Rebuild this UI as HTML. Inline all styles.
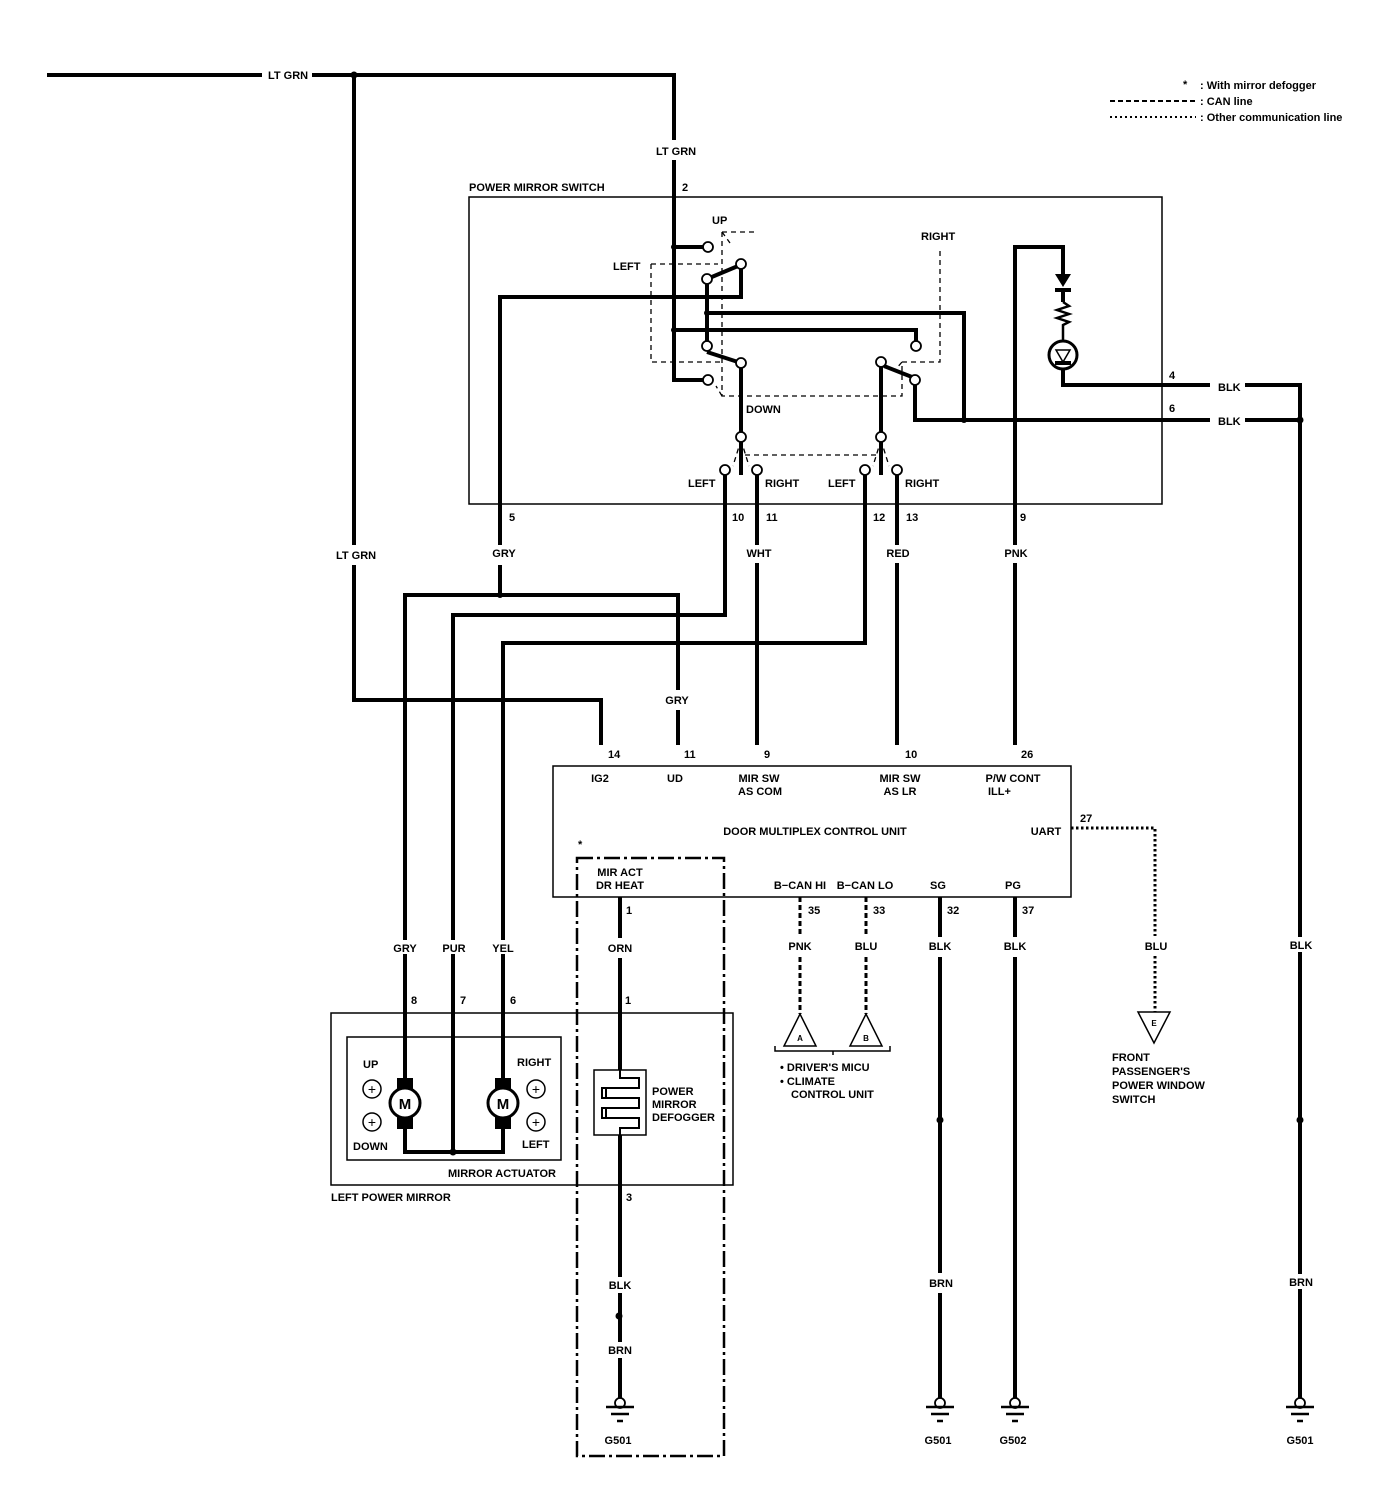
<!DOCTYPE html>
<html><head><meta charset="utf-8"><style>
html,body{margin:0;padding:0;background:#fff}
svg{display:block}
text{font-family:"Liberation Sans",sans-serif;font-weight:bold;font-size:11px;fill:#000}
.w{stroke:#000;stroke-width:4;fill:none}
.t{stroke:#000;stroke-width:1.5;fill:none}
.d{stroke:#000;stroke-width:1.3;fill:none;stroke-dasharray:5 4}
.c{fill:#fff;stroke:#000;stroke-width:1.8}
.m{text-anchor:middle}
</style></head><body>
<svg width="1392" height="1502" viewBox="0 0 1392 1502">
<text x="1183" y="88">*</text><text x="1200" y="89">:  With mirror defogger</text>
<line x1="1110" y1="101" x2="1196" y2="101" stroke="#000" stroke-width="2" stroke-dasharray="5 3"/><text x="1200" y="105">:  CAN line</text>
<line x1="1110" y1="117" x2="1196" y2="117" stroke="#000" stroke-width="2" stroke-dasharray="2 3"/><text x="1200" y="121">:  Other communication line</text>

<path class="w" d="M47 75H262M312 75H674V140M674 160V380H705"/>
<text x="268" y="79">LT GRN</text>
<text x="656" y="155">LT GRN</text>
<text x="682" y="191">2</text>
<circle cx="354" cy="75" r="3.5"/>
<path class="w" d="M354 75V545M354 565V700H601V745"/>
<text x="336" y="559">LT GRN</text>

<rect x="469" y="197" width="693" height="307" class="t"/>
<text x="469" y="191">POWER MIRROR SWITCH</text>
<text x="712" y="224">UP</text><text x="613" y="270">LEFT</text>
<text x="921" y="240">RIGHT</text><text x="746" y="413">DOWN</text>
<path class="d" d="M651 264H718M651 264V362H722M722 232H758M722 232V396H902V362H940V250M745 455H880"/>
<path class="d" d="M722 232L730 243M722 396L716 386M902 362L895 370M741 440L733 466M741 440L749 466M881 440L873 466M881 440L889 466"/>
<path class="w" d="M674 247H705"/>
<circle cx="674" cy="247" r="3"/>
<path class="w" d="M707 279V346M741 267V297H500V545M500 565V595"/>
<path class="w" d="M707 279L738 266"/>
<circle cx="707" cy="313" r="3"/>
<path class="w" d="M707 313H964V420"/>
<path class="w" d="M674 330H916V343"/><circle cx="674" cy="330" r="3"/>
<path class="w" d="M707 352L738 362M741 366V434"/>
<path class="w" d="M881 365V434M884 366L912 377M915 383V420H1300"/>
<circle cx="964" cy="420" r="3"/>
<circle class="c" cx="708" cy="247" r="5"/><circle class="c" cx="741" cy="264" r="5"/><circle class="c" cx="707" cy="279" r="5"/>
<circle class="c" cx="707" cy="346" r="5"/><circle class="c" cx="741" cy="363" r="5"/><circle class="c" cx="708" cy="380" r="5"/>
<circle class="c" cx="916" cy="346" r="5"/><circle class="c" cx="881" cy="362" r="5"/><circle class="c" cx="915" cy="380" r="5"/>
<path class="w" d="M741 441V475M881 441V475"/>
<circle class="c" cx="741" cy="437" r="5"/><circle class="c" cx="881" cy="437" r="5"/>
<circle class="c" cx="725" cy="470" r="5"/><circle class="c" cx="757" cy="470" r="5"/>
<circle class="c" cx="865" cy="470" r="5"/><circle class="c" cx="897" cy="470" r="5"/>
<text x="688" y="487">LEFT</text><text x="765" y="487">RIGHT</text>
<text x="828" y="487">LEFT</text><text x="905" y="487">RIGHT</text>
<text x="509" y="521">5</text><text x="732" y="521">10</text><text x="766" y="521">11</text>
<text x="873" y="521">12</text><text x="906" y="521">13</text><text x="1020" y="521">9</text>
<path class="w" d="M725 475V615H453V1152"/>
<path class="w" d="M757 475V545M757 563V745"/><text class="m" x="759" y="557">WHT</text>
<path class="w" d="M865 475V643H503V1087"/>
<path class="w" d="M897 475V545M897 563V745"/><text class="m" x="898" y="557">RED</text>
<text class="m" x="504" y="557">GRY</text>
<circle cx="500" cy="595" r="3"/>
<path class="w" d="M405 1085V595H678V690M678 710V745"/>
<text class="m" x="677" y="704">GRY</text>
<path class="w" d="M1015 745V563M1015 545V247H1063V274"/>
<text class="m" x="1016" y="557">PNK</text>
<path d="M1055 274H1071L1063 287Z"/>
<path class="w" d="M1055 290H1071M1063 290V302"/>
<path stroke="#000" stroke-width="2.5" fill="none" d="M1063 302L1069 306L1057 310L1069 314L1057 318L1069 322L1063 325V342"/>
<circle cx="1063" cy="355" r="14" stroke="#000" stroke-width="3" fill="#fff"/>
<path stroke="#000" stroke-width="1.5" fill="none" d="M1056 350H1070L1063 362Z"/>
<path class="w" d="M1055 363H1071M1063 368V385H1210M1245 385H1300V1400M1245 420H1300"/>
<rect x="1210" y="380" width="35" height="10" fill="#fff"/><rect x="1210" y="415" width="35" height="10" fill="#fff"/>
<text x="1218" y="391">BLK</text><text x="1218" y="425">BLK</text>
<text x="1169" y="379">4</text><text x="1169" y="412">6</text>
<circle cx="1300" cy="420" r="3.5"/>
<rect x="1294" y="937" width="12" height="15" fill="#fff"/><text class="m" x="1301" y="949">BLK</text>
<circle cx="1300" cy="1120" r="3.5"/>
<rect x="1294" y="1274" width="12" height="15" fill="#fff"/><text class="m" x="1301" y="1286">BRN</text>

<rect x="553" y="766" width="518" height="131" class="t"/>
<text x="608" y="758">14</text><text x="684" y="758">11</text><text x="764" y="758">9</text>
<text x="905" y="758">10</text><text x="1021" y="758">26</text>
<text class="m" x="600" y="782">IG2</text><text class="m" x="675" y="782">UD</text>
<text class="m" x="759" y="782">MIR SW</text><text class="m" x="760" y="795">AS COM</text>
<text class="m" x="900" y="782">MIR SW</text><text class="m" x="900" y="795">AS LR</text>
<text class="m" x="1013" y="782">P/W CONT</text><text x="988" y="795">ILL+</text>
<text class="m" x="815" y="835">DOOR MULTIPLEX CONTROL UNIT</text>
<text class="m" x="1046" y="835">UART</text><text x="1080" y="822">27</text>
<text class="m" x="620" y="876">MIR ACT</text><text class="m" x="620" y="889">DR HEAT</text>
<text class="m" x="800" y="889">B−CAN HI</text><text class="m" x="865" y="889">B−CAN LO</text>
<text class="m" x="938" y="889">SG</text><text class="m" x="1013" y="889">PG</text>
<text x="626" y="914">1</text><text x="808" y="914">35</text><text x="873" y="914">33</text>
<text x="947" y="914">32</text><text x="1022" y="914">37</text>
<path stroke="#000" stroke-width="3" fill="none" stroke-dasharray="2.5 2.5" d="M1071 828H1155V936M1155 956V1012"/>
<text class="m" x="1156" y="950">BLU</text>
<path d="M1138 1012H1170L1154 1043Z" class="t" stroke-width="2"/>
<text class="m" x="1154" y="1026" style="font-size:8px">E</text>
<text x="1112" y="1061">FRONT</text><text x="1112" y="1075">PASSENGER'S</text>
<text x="1112" y="1089">POWER WINDOW</text><text x="1112" y="1103">SWITCH</text>
<path stroke="#000" stroke-width="3" fill="none" stroke-dasharray="5 3" d="M800 897V935M800 957V1014M866 897V935M866 957V1014"/>
<text class="m" x="800" y="950">PNK</text><text class="m" x="866" y="950">BLU</text>
<path d="M784 1046H816L800 1014Z" class="t" stroke-width="2"/>
<path d="M850 1046H882L866 1014Z" class="t" stroke-width="2"/>
<text class="m" x="800" y="1041" style="font-size:8px">A</text><text class="m" x="866" y="1041" style="font-size:8px">B</text>
<path class="t" d="M775 1046V1051H890V1046M833 1051V1055"/>
<text x="780" y="1071">•  DRIVER'S MICU</text><text x="780" y="1085">•  CLIMATE</text><text x="791" y="1098">CONTROL UNIT</text>
<path class="w" d="M940 897V937M940 957V1273M940 1293V1398"/><text class="m" x="940" y="950">BLK</text>
<circle cx="940" cy="1120" r="3.5"/><text class="m" x="941" y="1287">BRN</text>
<path class="w" d="M1015 897V937M1015 957V1398"/><text class="m" x="1015" y="950">BLK</text>

<text x="578" y="848">*</text>
<rect x="577" y="858" width="147" height="598" fill="none" stroke="#000" stroke-width="2.5" stroke-dasharray="16 4 3 4"/>
<path class="w" d="M620 897V938M620 958V1070"/><text class="m" x="620" y="952">ORN</text>
<text x="625" y="1004">1</text>
<rect x="594" y="1070" width="52" height="65" class="t" stroke-width="2.5"/>
<path stroke="#000" stroke-width="2" fill="none" d="M620 1070V1078H639V1088H602V1098H639V1108H602V1118H639V1128H620V1135M620 1088H606V1098M620 1108H606V1118"/>
<text x="652" y="1095">POWER</text><text x="652" y="1108">MIRROR</text><text x="652" y="1121">DEFOGGER</text>
<path class="w" d="M620 1135V1277M620 1293V1342M620 1358V1398"/>
<text x="626" y="1201">3</text><text class="m" x="620" y="1289">BLK</text>
<circle cx="619" cy="1316" r="3.5"/><text class="m" x="620" y="1354">BRN</text>

<g id="g">
<circle class="c" cx="620" cy="1403" r="5"/><path stroke="#000" stroke-width="2.5" d="M606 1407H634M611 1414H629M617 1421H623"/>
</g>
<use href="#g" x="320"/><use href="#g" x="395"/><use href="#g" x="680"/>
<text class="m" x="618" y="1444">G501</text><text class="m" x="938" y="1444">G501</text>
<text class="m" x="1013" y="1444">G502</text><text class="m" x="1300" y="1444">G501</text>

<rect x="398" y="940" width="14" height="14" fill="#fff"/><rect x="446" y="940" width="16" height="14" fill="#fff"/><rect x="496" y="940" width="14" height="14" fill="#fff"/>
<text class="m" x="405" y="952">GRY</text><text class="m" x="454" y="952">PUR</text><text class="m" x="503" y="952">YEL</text>
<text x="411" y="1004">8</text><text x="460" y="1004">7</text><text x="510" y="1004">6</text>
<rect x="331" y="1013" width="402" height="172" class="t" stroke-width="2"/>
<rect x="347" y="1037" width="214" height="123" class="t" stroke-width="2.5"/>
<rect x="397" y="1078" width="16" height="12"/><rect x="397" y="1117" width="16" height="12"/>
<rect x="495" y="1078" width="16" height="12"/><rect x="495" y="1117" width="16" height="12"/>
<circle cx="405" cy="1103" r="15" stroke="#000" stroke-width="3" fill="#fff"/>
<circle cx="503" cy="1103" r="15" stroke="#000" stroke-width="3" fill="#fff"/>
<text class="m" x="405" y="1109" style="font-size:15px">M</text><text class="m" x="503" y="1109" style="font-size:15px">M</text>
<path class="w" d="M405 1129V1152H503V1129"/><circle cx="453" cy="1152" r="3.5"/>
<circle cx="372" cy="1089" r="9" class="t"/><text class="m" x="372" y="1094" style="font-size:14px;font-weight:normal">+</text>
<circle cx="372" cy="1122" r="9" class="t"/><text class="m" x="372" y="1127" style="font-size:14px;font-weight:normal">+</text>
<circle cx="536" cy="1089" r="9" class="t"/><text class="m" x="536" y="1094" style="font-size:14px;font-weight:normal">+</text>
<circle cx="536" cy="1122" r="9" class="t"/><text class="m" x="536" y="1127" style="font-size:14px;font-weight:normal">+</text>
<text x="363" y="1068">UP</text><text x="517" y="1066">RIGHT</text>
<text x="353" y="1150">DOWN</text><text x="522" y="1148">LEFT</text>
<text x="448" y="1177">MIRROR ACTUATOR</text>
<text x="331" y="1201">LEFT POWER MIRROR</text>
</svg>
</body></html>
